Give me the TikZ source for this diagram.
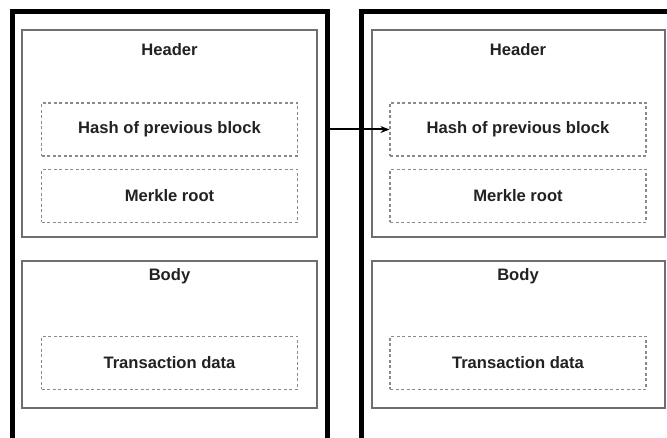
\documentclass[tikz,border=0pt]{standalone}
\usepackage{fontspec}
\setmainfont{Liberation Sans}
\usetikzlibrary{arrows.meta}
\definecolor{boxgray}{HTML}{6E6E6E}
\definecolor{dashgray}{HTML}{8A8A8A}
\definecolor{ink}{HTML}{222222}
\tikzset{
  blockframe/.style={draw=black, line width=5pt},
  partbox/.style={draw=boxgray, line width=1.6pt, fill=white},
  fieldbox/.style={draw=dashgray, line width=1.1pt, dash pattern=on 3pt off 2.5pt,
    minimum width=256pt, minimum height=53pt, inner sep=0pt,
    font=\fontsize{16.6}{20}\selectfont\bfseries, text=ink},
  title/.style={font=\fontsize{16.6}{20}\selectfont\bfseries, text=ink, inner sep=0pt},
  link/.style={draw=black, line width=2pt, -{Stealth[length=9pt,width=7pt]}}
}
\begin{document}
\begin{tikzpicture}[x=1pt, y=-1pt]
\clip (0,0) rectangle (667,438);
\fill[white] (0,0) rectangle (667,438);

% left block
\draw[blockframe] (12,460) -- (12,12) -- (327,12) -- (327,460);
\draw[partbox] (22,30) rectangle (317,237);
\draw[partbox] (22,261) rectangle (317,408);
\node[title] (hdrA) at (169.5,50) {Header};
\node[title] (bodyA) at (169.5,276) {Body};
\node[fieldbox] (hashA) at (169.5,129.5) {Hash of previous block};
\node[fieldbox] (merkA) at (169.5,196) {Merkle root};
\node[fieldbox] (txA) at (169.5,363) {Transaction data};

% right block
\draw[blockframe] (361,460) -- (361,12) -- (690,12) -- (690,460);
\draw[partbox] (372,30) rectangle (665,237);
\draw[partbox] (372,261) rectangle (665,408);
\node[title] (hdrB) at (518,50) {Header};
\node[title] (bodyB) at (518,276) {Body};
\node[fieldbox] (hashB) at (518,129.5) {Hash of previous block};
\node[fieldbox] (merkB) at (518,196) {Merkle root};
\node[fieldbox] (txB) at (518,363) {Transaction data};

% chain link
\coordinate (tail) at (327,129.5);
\draw[link] (tail) -- (hashB.west);
\end{tikzpicture}
\end{document}
